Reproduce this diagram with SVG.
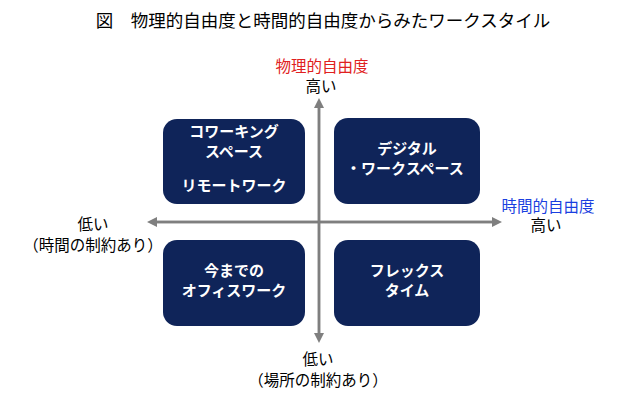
<svg xmlns="http://www.w3.org/2000/svg" width="640" height="403" viewBox="0 0 640 403">
<style>
text{font-family:"Noto Sans CJK JP",sans-serif;text-anchor:middle}
.box{fill:#0f2459}
.bt{fill:#fff;font-size:15px;font-weight:bold}
.lb{fill:#000;font-size:15.5px}
.ax{stroke:#7f7f7f;stroke-width:2.5;fill:none}
</style>
<defs><marker id="ar" markerWidth="4" markerHeight="4" refX="2" refY="2" orient="auto"><path d="M0,0L4,2L0,4Z" fill="#7f7f7f"/></marker></defs>
<rect width="640" height="403" fill="#fff"/>
<text x="323" y="27" style="font-size:17.5px">図　物理的自由度と時間的自由度からみたワークスタイル</text>
<g id="axes">
<line class="ax" x1="152" y1="222" x2="497" y2="222" marker-end="url(#ar)"/>
<line class="ax" x1="497" y1="222" x2="152" y2="222" marker-end="url(#ar)"/>
<line class="ax" x1="319" y1="338" x2="319" y2="103" marker-end="url(#ar)"/>
<line class="ax" x1="319" y1="103" x2="319" y2="338" marker-end="url(#ar)"/>
</g>
<g id="labels">
<text x="322" y="72" style="font-size:15.5px;fill:#e02020">物理的自由度</text>
<text class="lb" x="321" y="92">高い</text>
<text x="548" y="212" style="font-size:15.5px;fill:#1a3fe0">時間的自由度</text>
<text class="lb" x="546" y="231">高い</text>
<text class="lb" x="93" y="230">低い</text>
<text class="lb" x="93" y="251">（時間の制約あり）</text>
<text class="lb" x="318" y="365">低い</text>
<text class="lb" x="318" y="386">（場所の制約あり）</text>
</g>
<g id="n1"><rect class="box" x="163" y="119" width="142" height="85" rx="14"/>
<text class="bt" x="234" y="137">コワーキング</text><text class="bt" x="234" y="157">スペース</text><text class="bt" x="234" y="191">リモートワーク</text></g>
<g id="n2"><rect class="box" x="334" y="118" width="146" height="86" rx="14"/>
<text class="bt" x="407" y="154">デジタル</text><text class="bt" x="405" y="174">・ワークスペース</text></g>
<g id="n3"><rect class="box" x="163" y="240" width="142" height="86" rx="14"/>
<text class="bt" x="234" y="276">今までの</text><text class="bt" x="234" y="296">オフィスワーク</text></g>
<g id="n4"><rect class="box" x="334" y="240" width="146" height="86" rx="14"/>
<text class="bt" x="407" y="276">フレックス</text><text class="bt" x="407" y="296">タイム</text></g>
</svg>
